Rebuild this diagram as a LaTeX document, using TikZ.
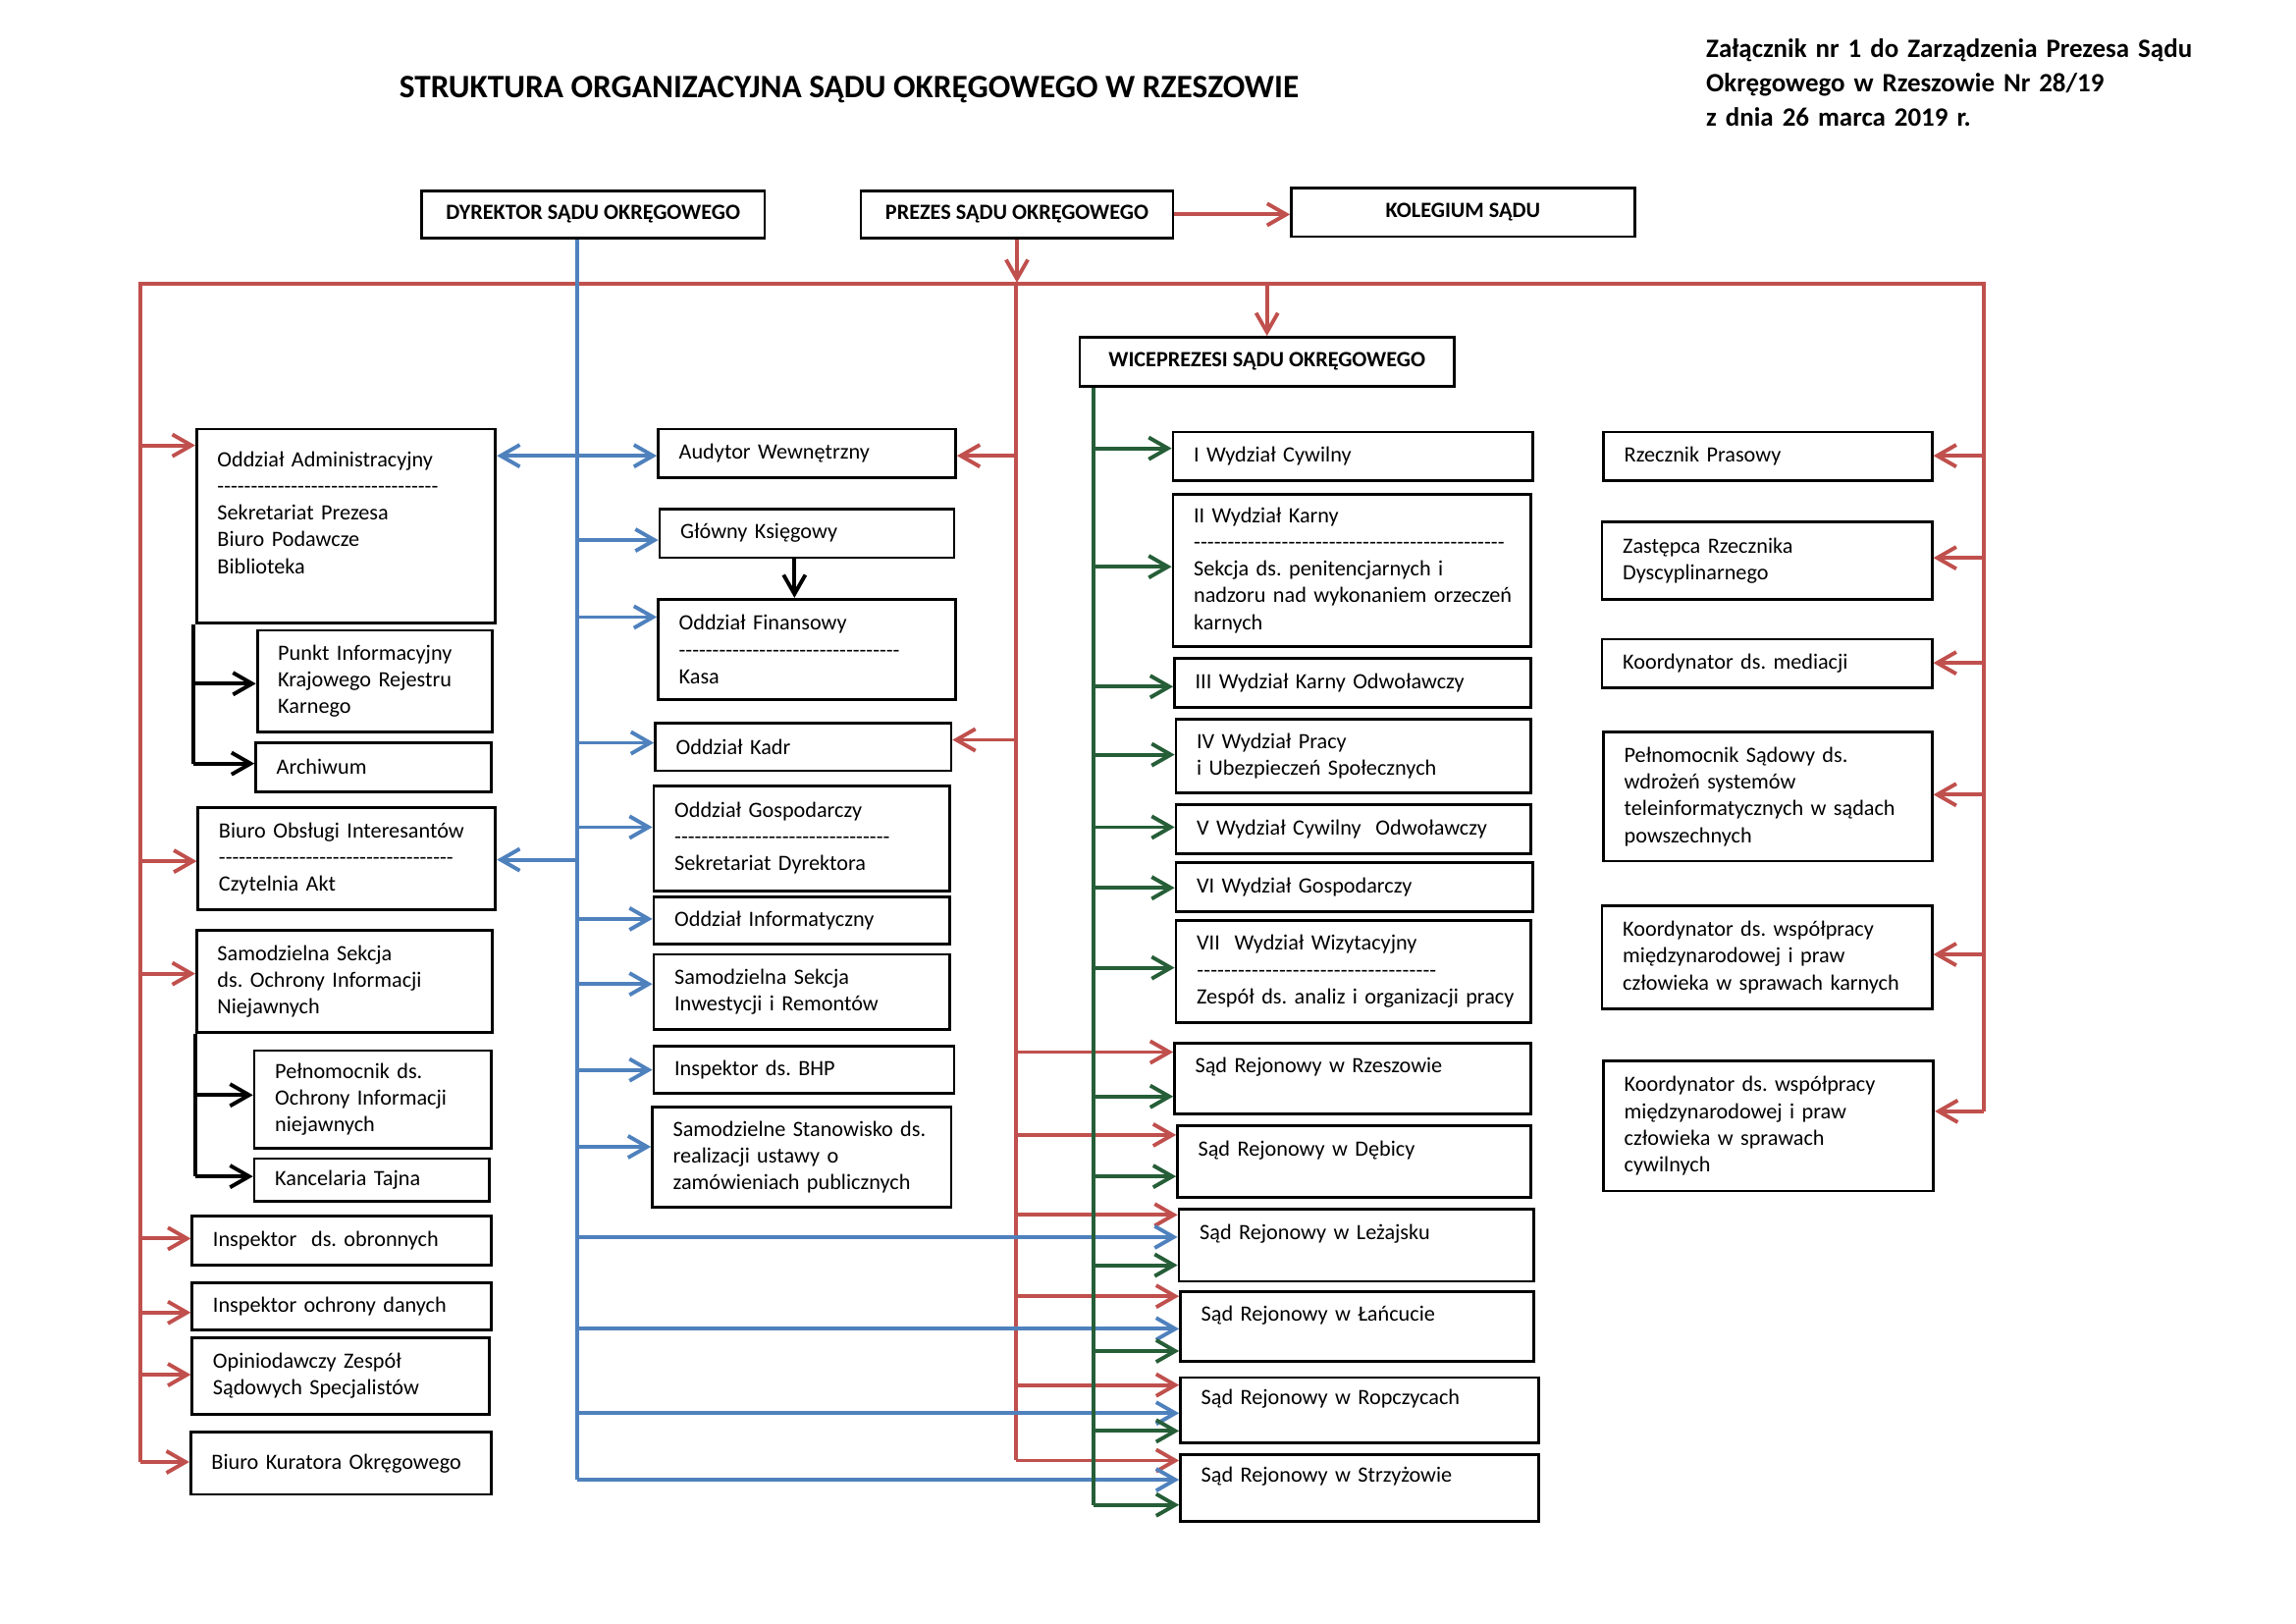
\documentclass[tikz,border=0pt]{standalone}
\usepackage{fontspec}
\setmainfont{Carlito}
\usepackage{tikz}
\usetikzlibrary{arrows.meta}
\usepackage{xcolor}
\definecolor{sred}{RGB}{192,80,77}
\definecolor{sblue}{RGB}{79,129,189}
\definecolor{sgreen}{RGB}{38,94,56}
\newcommand\dashrow[1]{\makebox[#1][l]{\xleaders\hbox{-}\hfill}}
\frenchspacing

\begin{document}
\begin{tikzpicture}[x=0.5425pt, y=-0.5425pt,
    font=\fontsize{8}{9.77}\selectfont,
    >={Straight Barb[length=7pt,width=8pt]},
    every edge/.append style={->},
    box/.style 2 args={draw, line width=1pt, anchor=north west, inner sep=0pt,
      text width=#1*0.5425pt, minimum height=#2*0.5425pt, align=left,
      execute at begin node={\leftskip=7.6pt}},
    head/.style 2 args={draw, line width=1pt, anchor=north west, inner sep=0pt,
      minimum width=#1*0.5425pt, minimum height=#2*0.5425pt,
      font=\fontsize{8}{9.77}\selectfont\bfseries},
    rl/.style={sred, line width=1.4pt},
    bl/.style={sblue, line width=1.4pt},
    gl/.style={sgreen, line width=1.4pt},
    kl/.style={black, line width=1.4pt}]
    \useasboundingbox (0,0) rectangle (1552,1097);

    \node[font=\fontsize{12}{14}\selectfont\bfseries, anchor=base](title) at (574,66)
      {STRUKTURA ORGANIZACYJNA SĄDU OKRĘGOWEGO W RZESZOWIE};
    \node[font=\fontsize{9.7}{12.48}\selectfont\bfseries, anchor=base west, align=left,
      text width=230pt, inner sep=0pt](zal) at (1153,39)
      {Załącznik nr 1 do Zarządzenia Prezesa Sądu\\Okręgowego w Rzeszowie Nr 28/19\\z dnia 26 marca 2019 r.};

    \node[head={232}{32}](dyr) at (284,128) {DYREKTOR SĄDU OKRĘGOWEGO};
    \node[head={211}{32}](prez) at (581,128) {PREZES SĄDU OKRĘGOWEGO};
    \node[head={232}{33}](kol) at (872,126) {KOLEGIUM SĄDU};
    \node[head={253}{33}](wice) at (729,227) {WICEPREZESI SĄDU OKRĘGOWEGO};

    \node[box={202}{131}](adm) at (132,289) {Oddział Administracyjny\\\dashrow{81pt}\\Sekretariat Prezesa\\Biuro Podawcze\\Biblioteka\\\mbox{}};
    \node[box={159}{69}](pik) at (173,425) {Punkt Informacyjny\\Krajowego Rejestru\\Karnego};
    \node[box={159}{33}](arch) at (172,501) {Archiwum};
    \node[box={201}{69}](boi) at (133,545) {Biuro Obsługi Interesantów\\\dashrow{86pt}\\Czytelnia Akt};
    \node[box={200}{69}](ssn) at (132,628) {Samodzielna Sekcja\\ds. Ochrony Informacji\\Niejawnych};
    \node[box={160}{66}](pel) at (171,709) {Pełnomocnik ds.\\Ochrony Informacji\\niejawnych};
    \node[box={159}{29}](kt) at (171,782) {Kancelaria Tajna};
    \node[box={202}{33}](iob) at (129,821) {Inspektor~ ds. obronnych};
    \node[box={202}{32}](iod) at (129,866) {Inspektor ochrony danych};
    \node[box={201}{52}](ozs) at (129,903) {Opiniodawczy Zespół\\Sądowych Specjalistów};
    \node[box={203}{42}](bko) at (128,967) {Biuro Kuratora Okręgowego};

    \node[box={201}{33}](aud) at (444,289) {Audytor Wewnętrzny};
    \node[box={199}{33}](gk) at (445,343) {Główny Księgowy};
    \node[box={201}{68}](fin) at (444,404) {Oddział Finansowy\\\dashrow{81pt}\\Kasa};
    \node[box={200}{32}](kadr) at (442,488) {Oddział Kadr};
    \node[box={200}{71}](gosp) at (441,530) {Oddział Gospodarczy\\\dashrow{79pt}\\Sekretariat Dyrektora};
    \node[box={200}{32}](inf) at (441,605) {Oddział Informatyczny};
    \node[box={200}{51}](ssir) at (441,644) {Samodzielna Sekcja\\Inwestycji i Remontów};
    \node[box={203}{32}](bhp) at (441,706) {Inspektor ds. BHP};
    \node[box={202}{68}](sszp) at (440,747) {Samodzielne Stanowisko ds.\\realizacji ustawy o\\zamówieniach publicznych};

    \node[box={243}{33}](w1) at (792,291) {I Wydział Cywilny};
    \node[box={242}{103}](w2) at (792,333) {II Wydział Karny\\\dashrow{114pt}\\Sekcja ds. penitencjarnych i\\nadzoru nad wykonaniem orzeczeń\\karnych};
    \node[box={241}{33}](w3) at (793,444) {III Wydział Karny Odwoławczy};
    \node[box={240}{50}](w4) at (794,485) {IV Wydział Pracy\\i Ubezpieczeń Społecznych};
    \node[box={240}{33}](w5) at (794,543) {V Wydział Cywilny~ Odwoławczy};
    \node[box={241}{33}](w6) at (794,582) {VI Wydział Gospodarczy};
    \node[box={240}{69}](w7) at (794,621) {VII~ Wydział Wizytacyjny\\\dashrow{88pt}\\Zespół ds. analiz i organizacji pracy};

    \node[box={241}{48}](sr1) at (793,704) {Sąd Rejonowy w Rzeszowie\\\mbox{}};
    \node[box={239}{48}](sr2) at (795,760) {Sąd Rejonowy w Dębicy\\\mbox{}};
    \node[box={240}{49}](sr3) at (796,816) {Sąd Rejonowy w Leżajsku\\\mbox{}};
    \node[box={239}{47}](sr4) at (797,872) {Sąd Rejonowy w Łańcucie\\\mbox{}};
    \node[box={242}{44}](sr5) at (797,930) {Sąd Rejonowy w Ropczycach\\\mbox{}};
    \node[box={242}{45}](sr6) at (797,982) {Sąd Rejonowy w Strzyżowie\\\mbox{}};

    \node[box={222}{33}](rp) at (1083,291) {Rzecznik Prasowy};
    \node[box={223}{52}](zrd) at (1082,352) {Zastępca Rzecznika\\Dyscyplinarnego};
    \node[box={223}{33}](kmed) at (1082,431) {Koordynator ds. mediacji};
    \node[box={222}{87}](psd) at (1083,494) {Pełnomocnik Sądowy ds.\\wdrożeń systemów\\teleinformatycznych w sądach\\powszechnych};
    \node[box={223}{70}](kwk) at (1082,611) {Koordynator ds. współpracy\\międzynarodowej i praw\\człowieka w sprawach karnych};
    \node[box={223}{88}](kwc) at (1083,716) {Koordynator ds. współpracy\\międzynarodowej i praw\\człowieka w sprawach\\cywilnych};

    \draw[rl] (95,988) -- (95,192) -- (1341,192) -- (1341,751)
              (687,192) -- (687,987);
    \draw[rl] (prez.south) edge (prez.south |- 0,191)
              (prez.east) edge (prez.east -| kol.west)
              (wice.north |- 0,192) edge (wice.north)
              (95,301) edge (95,301 -| adm.west)
              (95,582) edge (95,582 -| boi.west)
              (95,658) edge (95,658 -| ssn.west)
              (95,837) edge (95,837 -| iob.west)
              (95,887) edge (95,887 -| iod.west)
              (95,929) edge (95,929 -| ozs.west)
              (95,988) edge (95,988 -| bko.west)
              (687,308) edge (687,308 -| aud.east)
              (687,500) edge (687,500 -| kadr.east)
              (687,711) edge (687,711 -| sr1.west)
              (687,767) edge (687,767 -| sr2.west)
              (687,821) edge (687,821 -| sr3.west)
              (687,876) edge (687,876 -| sr4.west)
              (687,936) edge (687,936 -| sr5.west)
              (687,987) edge (687,987 -| sr6.west)
              (1341,308) edge (1341,308 -| rp.east)
              (1341,377) edge (1341,377 -| zrd.east)
              (1341,448) edge (1341,448 -| kmed.east)
              (1341,537) edge (1341,537 -| psd.east)
              (1341,645) edge (1341,645 -| kwk.east)
              (1341,751) edge (1341,751 -| kwc.east);

    \draw[bl] (390,0 |- dyr.south) -- (390,1000);
    \draw[bl,<->] (adm.east |- 0,308) -- (aud.west |- 0,308);
    \draw[bl] (390,365) edge (390,365 -| gk.west)
              (390,417) edge (390,417 -| fin.west)
              (390,502) edge (390,502 -| kadr.west)
              (390,559) edge (390,559 -| gosp.west)
              (390,621) edge (390,621 -| inf.west)
              (390,665) edge (390,665 -| ssir.west)
              (390,723) edge (390,723 -| bhp.west)
              (390,775) edge (390,775 -| sszp.west)
              (390,581) edge (390,581 -| boi.east)
              (390,836) edge (390,836 -| sr3.west)
              (390,898) edge (390,898 -| sr4.west)
              (390,955) edge (390,955 -| sr5.west)
              (390,1000) edge (390,1000 -| sr6.west);

    \draw[gl] (739,0 |- wice.south) -- (739,1017);
    \draw[gl] (739,303) edge (739,303 -| w1.west)
              (739,383) edge (739,383 -| w2.west)
              (739,464) edge (739,464 -| w3.west)
              (739,510) edge (739,510 -| w4.west)
              (739,559) edge (739,559 -| w5.west)
              (739,600) edge (739,600 -| w6.west)
              (739,654) edge (739,654 -| w7.west)
              (739,741) edge (739,741 -| sr1.west)
              (739,795) edge (739,795 -| sr2.west)
              (739,855) edge (739,855 -| sr3.west)
              (739,913) edge (739,913 -| sr4.west)
              (739,967) edge (739,967 -| sr5.west)
              (739,1017) edge (739,1017 -| sr6.west);

    \draw[kl] (131,0 |- adm.south) -- (131,516)
              (132,0 |- ssn.south) -- (132,795);
    \draw[kl] (131,462) edge (131,462 -| pik.west)
              (131,516) edge (131,516 -| arch.west)
              (132,740) edge (132,740 -| pel.west)
              (132,795) edge (132,795 -| kt.west)
              (537,0 |- gk.south) edge (537,0 |- fin.north);
\end{tikzpicture}
\end{document}
